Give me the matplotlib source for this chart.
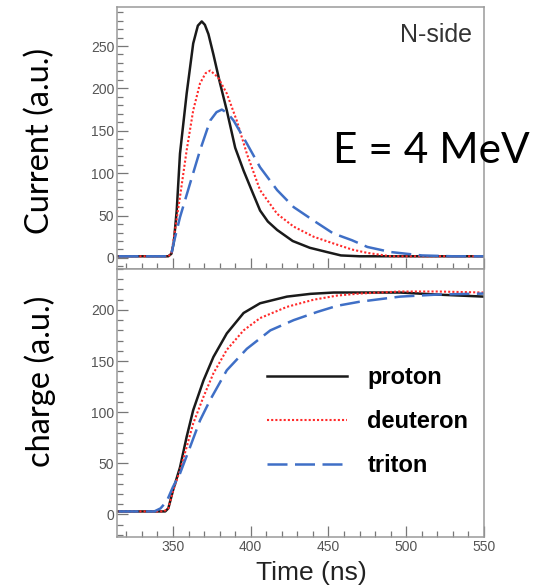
import matplotlib
matplotlib.use("Agg")
import matplotlib.pyplot as plt
from matplotlib.ticker import MultipleLocator

# ---- data ----
particles = ["proton", "deuteron", "triton"]

cur_t_proton = [315, 347, 349, 350.5, 352.4, 354.5, 358.8, 363, 366, 368.5, 370.5, 372.8, 376, 380,
                384.6, 390, 395.4, 401, 406, 411, 417, 427, 438, 449, 458, 470, 550]
cur_proton = [2, 2, 5, 18, 56, 123, 194, 253, 274, 279, 275, 264, 240, 208,
              174, 130, 103, 78, 56, 43, 33, 20, 12, 7, 3, 2, 2]

cur_t_deuteron = [315, 347, 349, 350, 354.5, 358.8, 363, 367.4, 371, 374, 379, 384.6, 391, 397.5,
                  406, 417, 427.6, 440.5, 453.4, 465, 475, 490, 550]
cur_deuteron = [2, 2, 5, 17, 72, 127, 174, 206, 218, 221, 213, 194, 162, 123,
                80, 52, 37, 25, 17, 10, 6, 2, 2]

cur_t_triton = [315, 347, 349, 350.5, 354.5, 361, 367.4, 373.9, 378, 381.4, 385, 389, 397.5, 406,
                417, 427.6, 440.5, 453, 465, 475, 490, 510, 530, 550]
cur_triton = [2, 2, 5, 18, 48, 88, 127, 162, 172, 175, 171, 162, 135, 107,
              80, 60, 44, 29, 21, 13, 7, 3, 2, 2]

chg_t_proton = [315, 345, 347, 350, 354.5, 358.8, 363, 369.6, 376, 384.6, 395.4, 406, 423.3,
                438.4, 453.4, 475, 496, 520, 550]
chg_proton = [3, 3, 6, 23.5, 46, 76, 102, 131, 154, 177, 197, 206.5, 213,
              215.7, 217, 217, 217, 215, 213]

chg_t_deuteron = [315, 344, 347, 350, 354.5, 358.8, 363, 369.6, 376, 384.6, 395.4, 406, 423.3,
                  440.5, 455.5, 470, 496, 520, 550]
chg_deuteron = [3, 3, 6, 23, 43, 66, 89, 115, 138, 161, 180, 192, 203,
                210, 214, 216, 218, 218, 217]

chg_t_triton = [315, 338, 342, 346, 350, 354.5, 361, 367.4, 373.9, 384.6, 397.5, 412.6, 427.6,
                442.7, 455.5, 470, 496, 520, 550]
chg_triton = [3, 3, 6, 13, 27, 40, 66, 92, 112, 141, 162, 180, 190,
              198, 204, 208, 213, 215, 216]

x_ticks = [350, 400, 450, 500, 550]

# ---- styles ----
styles = {
    "proton": dict(color="#1a1a1a", lw=1.8, ls="-"),
    "deuteron": dict(color="#ff2a2a", lw=1.5, ls=(0, (1, 1))),
    "triton": dict(color="#3f6fc6", lw=1.8, ls=(0, (8, 3))),
}

spine_col = "#9a9a9a"
tick_col = "#777777"
lab_col = "#555555"
arial = ["Liberation Sans", "DejaVu Sans"]
calibri = ["Lato", "DejaVu Sans"]

fig = plt.figure(figsize=(5.33, 5.87), dpi=100)
W, H = 533, 587
ax1 = fig.add_axes([117 / W, 1 - 269 / H, 367 / W, 262 / H])
ax2 = fig.add_axes([117 / W, 1 - 537 / H, 367 / W, 268 / H])

curr = {"proton": (cur_t_proton, cur_proton),
        "deuteron": (cur_t_deuteron, cur_deuteron),
        "triton": (cur_t_triton, cur_triton)}
chg = {"proton": (chg_t_proton, chg_proton),
       "deuteron": (chg_t_deuteron, chg_deuteron),
       "triton": (chg_t_triton, chg_triton)}

for name in particles:
    t, v = curr[name]
    ax1.plot(t, v, **styles[name])
    t, v = chg[name]
    ax2.plot(t, v, label=name, **styles[name])

ax1.set_ylim(-13, 296)
ax2.set_ylim(-22, 240)
for ax in (ax1, ax2):
    ax.set_xlim(314, 550)
    ax.set_xticks(x_ticks)
    ax.xaxis.set_minor_locator(MultipleLocator(10))
    ax.yaxis.set_major_locator(MultipleLocator(50))
    ax.yaxis.set_minor_locator(MultipleLocator(10))
    ax.tick_params(which="both", direction="in", color=tick_col, labelcolor=lab_col,
                   labelsize=10, top=False, right=False, width=0.9)
    ax.tick_params(which="major", length=8, pad=2)
    ax.tick_params(which="minor", length=4)
    for lab in ax.get_xticklabels() + ax.get_yticklabels():
        lab.set_family(arial)
    for sp in ax.spines.values():
        sp.set_color(spine_col)
        sp.set_linewidth(1.1)
ax1.tick_params(labelbottom=False)

ax1.text(0.967, 0.893, "N-side", transform=ax1.transAxes, ha="right", va="center",
         fontsize=18, color="#333333", family=arial)

leg = ax2.legend(loc="upper left", bbox_to_anchor=(267 / W, 1 - 366 / H),
                 bbox_transform=fig.transFigure, frameon=False, borderpad=0,
                 borderaxespad=0, handlelength=3.4, handletextpad=0.85,
                 labelspacing=0.89,
                 prop=dict(family=arial, weight="bold", size=17))

fig.text(40 / W, 1 - 141 / H, "Current (a.u.)", rotation=90, ha="center", va="center",
         fontsize=23.5, family=calibri)
fig.text(40 / W, 1 - 381 / H, "charge (a.u.)", rotation=90, ha="center", va="center",
         fontsize=23.5, family=calibri)
fig.text(333 / W, 1 - 163 / H, "E = 4 MeV", ha="left", va="baseline",
         fontsize=30.5, family=calibri)
fig.text(311 / W, 1 - 573 / H, "Time (ns)", ha="center", va="center",
         fontsize=19, family=arial, color="#222222")

fig.savefig("out.png", dpi=100)
